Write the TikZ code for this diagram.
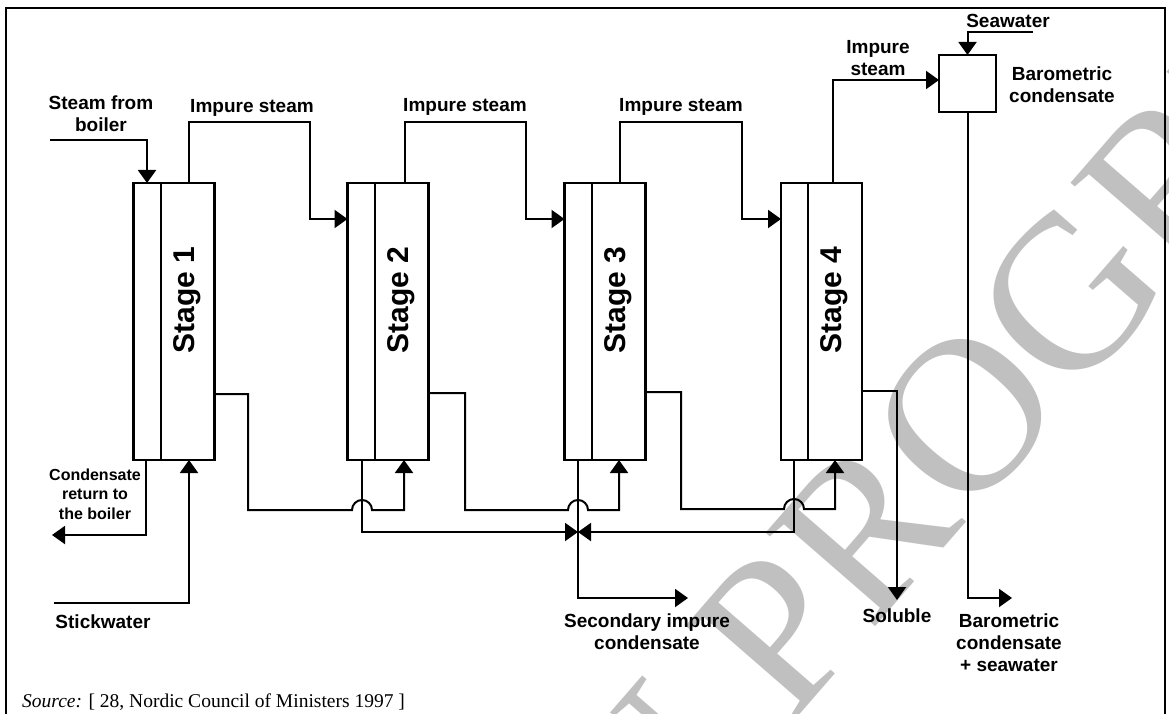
\documentclass[tikz,border=0pt]{standalone}
\usepackage{fontspec}
\setmainfont{Liberation Serif}
\newfontfamily\labfont{Liberation Sans}
\usetikzlibrary{arrows.meta,calc}
\definecolor{wm}{RGB}{192,192,192}
\begin{document}
\begin{tikzpicture}[x=1pt,y=-1pt,
  stagebox/.style={draw, line width=2.5pt, minimum width=81pt, minimum height=277pt, inner sep=0pt, outer sep=0pt},
  lbl/.style={font=\labfont\bfseries\fontsize{19}{22}\selectfont, align=center, inner sep=0pt},
  smalllbl/.style={lbl, font=\labfont\bfseries\fontsize{16}{19.5}\selectfont},
  stagelbl/.style={rotate=90, inner sep=0pt, font=\labfont\bfseries\fontsize{30}{30}\selectfont},
  conn/.style={line width=2pt},
  arr/.style={conn, -{Triangle[length=13pt,width=18pt]}},
  hop/.style={start angle=180, end angle=0, radius=10pt}
]
\useasboundingbox (0,0) rectangle (1169,714);
% watermark
\begin{scope}
\clip (0,0) rectangle (1169,714);
\node[rotate=49, anchor=base west, text=wm, inner sep=0pt, font=\fontsize{220}{220}\selectfont] (wmk) at (602,942) {IN PROGRESS};
\end{scope}
% frame
\draw[line width=2.5pt] (6,716) -- (6,8) -- (1165,8) -- (1165,716);
% stages
\node[stagebox] (s1) at (174,321.5) {};
\node[stagebox] (s2) at (388,321.5) {};
\node[stagebox] (s3) at (605,321.5) {};
\node[stagebox] (s4) at (821.5,321.5) {};
\foreach \s in {s1,s2,s3,s4}
  \draw[line width=2pt] ([xshift=27pt]\s.north west) -- ([xshift=27pt]\s.south west);
\node[stagelbl] (t1) at ($(s1.west)+(53.5,-21.5)$) {Stage 1};
\node[stagelbl] (t2) at ($(s2.west)+(53.5,-21.5)$) {Stage 2};
\node[stagelbl] (t3) at ($(s3.west)+(53.5,-21.5)$) {Stage 3};
\node[stagelbl] (t4) at ($(s4.west)+(53.5,-21.5)$) {Stage 4};
% barometric condenser
\node[draw, line width=2.5pt, minimum size=57pt, inner sep=0pt, outer sep=0pt] (bc) at (967.5,83.5) {};
% steam connectors
\draw[arr] (50,140) -| (s1.north -| 147,0);
\draw[arr] (s1.north -| 189,0) |- (310,122) |- (s2.west |- 0,219);
\draw[arr] (s2.north -| 405,0) |- (526,122) |- (s3.west |- 0,219);
\draw[arr] (s3.north -| 620,0) |- (742,122) |- (s4.west |- 0,219);
\draw[arr] (s4.north -| 833,0) |- (bc.west |- 0,80);
\draw[arr] (1033,32) -| (bc.north);
\draw[arr] (bc.south) |- (1012,598);
\draw[arr] (s4.east |- 0,391) -| (897,600);
% liquid connectors with hops
\draw[arr] (s1.east |- 0,394) -| (248,510) -- (352,510) arc[hop] -- (404,510) -- (s2.south -| 404,0);
\draw[arr] (s2.east |- 0,393) -| (465,510) -- (568,510) arc[hop] -- (619,510) -- (s3.south -| 619,0);
\draw[arr] (s3.east |- 0,392) -| (681,509) -- (784,509) arc[hop] -- (835,509) -- (s4.south -| 835,0);
% collectors
\draw[arr] (s2.south -| 362,0) |- (578,532);
\draw[arr] (s4.south -| 794,0) |- (578,532);
\draw[arr] (s3.south -| 578,0) |- (688,598);
\draw[arr] (s1.south -| 146,0) |- (52,535);
\draw[arr] (54,603) -| (s1.south -| 189,0);
% labels
\node[lbl] (lsb) at (101,114) {Steam from\\boiler};
\node[lbl] (li1) at (252,108) {Impure steam};
\node[lbl] (li2) at (465,107) {Impure steam};
\node[lbl] (li3) at (681,107) {Impure steam};
\node[lbl] (li4) at (878,58) {Impure\\steam};
\node[lbl] (lsw) at (1008,21) {Seawater};
\node[lbl] (lbc) at (1062,85) {Barometric\\condensate};
\node[smalllbl] (lcr) at (95,494) {Condensate\\return to\\the boiler};
\node[lbl] (lst) at (103,622) {Stickwater};
\node[lbl] (lsic) at (647,632) {Secondary impure\\condensate};
\node[lbl] (lsol) at (897,616) {Soluble};
\node[lbl] (lbcs) at (1009,643) {Barometric\\condensate\\+ seawater};
\node[anchor=base west, inner sep=0pt, font=\fontsize{19.5}{22}\selectfont] (src) at (22,707) {\textit{Source:} [ 28, Nordic Council of Ministers 1997 ]};
\end{tikzpicture}
\end{document}
